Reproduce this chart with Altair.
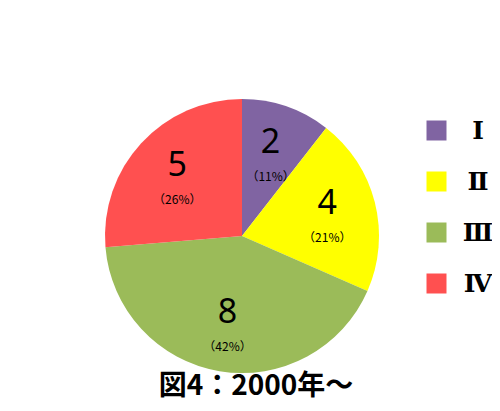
import altair as alt
import pandas as pd

cats = ["Ⅰ", "Ⅱ", "Ⅲ", "Ⅳ"]
values = [2, 4, 8, 5]
pcts = ["（11%）", "（21%）", "（42%）", "（26%）"]
colors = ["#8064A2", "#FFFF00", "#9BBB59", "#FF5050"]
title_text = "図4：2000年～"

df = pd.DataFrame({
    "cat": cats,
    "value": values,
    "pct": pcts,
    "ord": list(range(len(cats))),
})

CX, CY, R = 234, 228, 137

base = alt.Chart(df).encode(
    theta=alt.Theta("value:Q", stack=True),
    order=alt.Order("ord:Q"),
)

pie = base.mark_arc(outerRadius=R).encode(
    x=alt.value(CX), y=alt.value(CY),
    color=alt.Color(
        "cat:N",
        scale=alt.Scale(domain=cats, range=colors),
        sort=cats,
        legend=alt.Legend(
            title=None, orient="none", legendX=416, legendY=110,
            symbolType="square", symbolSize=400, symbolStrokeWidth=0,
            labelFont="DejaVu Serif", labelFontSize=25, labelFontWeight="bold",
            labelColor="#000000", labelAlign="center", labelOffset=29,
            rowPadding=25, labelLimit=200,
        ),
    ),
)

nums = base.mark_text(font="Noto Sans", fontSize=34, color="#000000",
                      baseline="middle", dy=-10).encode(
    x=alt.value(CX), y=alt.value(CY), radius=alt.value(88),
    text="value:Q",
)

pct = base.mark_text(font="Noto Sans CJK JP", fontSize=12, color="#000000",
                     baseline="middle", dy=24).encode(
    x=alt.value(CX), y=alt.value(CY), radius=alt.value(88),
    text="pct:N",
)

title = alt.Chart(pd.DataFrame({"t": [title_text]})).mark_text(
    font="Noto Sans CJK JP", fontSize=28, fontWeight="bold", color="#000000",
    baseline="middle", align="center",
).encode(x=alt.value(248), y=alt.value(379), text="t:N")

chart = alt.layer(pie, nums, pct, title).properties(
    width=484, height=395, padding=0, background="#FFFFFF",
    autosize=alt.AutoSizeParams(type="none"),
).configure_view(stroke=None)

chart.save("out.html", embed_options={"renderer": "svg", "actions": False})
